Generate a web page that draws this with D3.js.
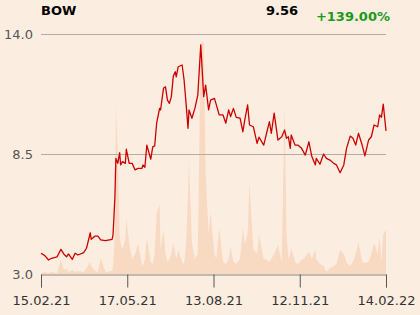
<!DOCTYPE html>
<html>
<head>
<meta charset="utf-8">
<script src="https://cdn.jsdelivr.net/npm/d3@7"></script>
<style>
  html, body { margin: 0; padding: 0; background: #fcede1; }
  svg { display: block; font-family: "DejaVu Sans", sans-serif; }
</style>
</head>
<body>
<script>
//Declare DATA
const symbol = 'BOW'
const lastPrice = '9.56'
const change = '+139.00%'
const tickDates = ['2021-02-15', '2021-05-17', '2021-08-13', '2021-11-12', '2022-02-14']
const yTicks = [3.0, 8.5, 14.0]

const dates = [
  '2021-02-15','2021-02-19','2021-02-23','2021-02-26','2021-03-04','2021-03-08','2021-03-11','2021-03-14','2021-03-16','2021-03-20',
  '2021-03-23','2021-03-26','2021-04-01','2021-04-04','2021-04-08','2021-04-09','2021-04-13','2021-04-16','2021-04-19','2021-04-24',
  '2021-05-01','2021-05-02','2021-05-04','2021-05-05','2021-05-07','2021-05-09','2021-05-10','2021-05-12','2021-05-15','2021-05-16',
  '2021-05-19','2021-05-22','2021-05-25','2021-05-28','2021-06-01','2021-06-02','2021-06-04','2021-06-06','2021-06-10','2021-06-12',
  '2021-06-14','2021-06-16','2021-06-19','2021-06-20','2021-06-23','2021-06-25','2021-06-27','2021-06-29','2021-07-01','2021-07-03',
  '2021-07-05','2021-07-06','2021-07-08','2021-07-12','2021-07-14','2021-07-16','2021-07-18','2021-07-19','2021-07-22','2021-07-25',
  '2021-07-28','2021-07-31','2021-08-03','2021-08-05','2021-08-08','2021-08-10','2021-08-14','2021-08-16','2021-08-19','2021-08-23',
  '2021-08-26','2021-08-29','2021-08-31','2021-09-03','2021-09-06','2021-09-10','2021-09-13','2021-09-15','2021-09-18','2021-09-20',
  '2021-09-24','2021-09-28','2021-09-30','2021-10-05','2021-10-08','2021-10-11','2021-10-13','2021-10-16','2021-10-20','2021-10-24',
  '2021-10-27','2021-10-29','2021-10-31','2021-11-02','2021-11-03','2021-11-07','2021-11-10','2021-11-14','2021-11-18','2021-11-22',
  '2021-11-25','2021-11-29','2021-11-30','2021-12-04','2021-12-08','2021-12-11','2021-12-15','2021-12-19','2021-12-22','2021-12-26',
  '2021-12-30','2022-01-02','2022-01-06','2022-01-09','2022-01-12','2022-01-15','2022-01-19','2022-01-22','2022-01-26','2022-01-29',
  '2022-02-01','2022-02-05','2022-02-07','2022-02-09','2022-02-11','2022-02-14'
]

const prices = [
  3.95,3.84,3.64,3.72,3.79,4.13,3.92,3.79,3.92,3.67,
  3.95,3.87,3.98,4.18,4.89,4.59,4.74,4.74,4.56,4.53,
  4.59,4.79,6.54,8.30,8.07,8.56,8.00,8.15,8.07,8.72,
  8.07,8.07,7.77,7.84,7.84,8.00,7.89,8.91,8.26,8.83,
  8.87,9.91,10.59,10.52,11.51,11.58,10.97,10.82,11.13,12.07,
  12.27,12.04,12.50,12.58,11.89,10.82,9.68,10.52,10.14,10.59,
  11.20,13.50,11.13,11.66,10.52,10.97,11.05,10.75,10.29,10.29,
  9.91,10.52,10.21,10.59,10.18,10.14,9.52,10.06,10.75,9.83,
  9.75,8.99,9.27,8.91,9.45,9.98,9.45,10.37,9.14,9.29,
  9.60,9.22,9.29,8.76,9.37,8.91,8.91,8.76,8.45,9.06,
  8.41,8.00,8.30,8.03,8.50,8.30,8.22,8.07,8.00,7.64,
  8.00,8.76,9.32,9.22,8.91,9.45,8.91,8.41,9.14,9.29,
  9.83,9.75,10.29,10.18,10.79,9.56
]

//Volume in thousands of shares
const volumes = [
  10,20,10,20,10,140,40,50,20,40,
  20,30,20,60,120,80,30,20,160,20,
  30,80,400,1700,1200,400,300,250,350,560,
  300,150,200,300,100,80,150,360,120,100,
  200,600,700,250,440,200,120,150,200,310,
  200,150,240,120,100,300,800,1140,300,150,
  200,2310,2320,1000,400,620,200,150,460,120,
  100,150,270,120,100,150,460,300,400,910,
  250,200,390,150,140,120,150,200,290,120,
  1690,400,150,200,260,120,100,140,170,220,
  150,240,150,100,80,20,60,80,100,240,
  200,110,80,120,200,320,120,110,120,200,
  310,200,370,120,400,440
]

//Declare VARIABLES
const w = 420
const h = 315
const plotLeft = 41
const plotRight = 386
const plotTop = 34
const plotBottom = 274

const data = dates.map((d, i) => ({ date: d3.timeParse('%Y-%m-%d')(d), price: prices[i], vol: volumes[i] }))
const tickDateObjs = tickDates.map(d3.timeParse('%Y-%m-%d'))

//Declare SVG
const svg = d3.select('body')
  .append('svg')
  .attr('width', w)
  .attr('height', h)

//Declare Scales (trading-day axis: ticks evenly spaced)
const xScale = d3.scaleTime()
  .domain(tickDateObjs)
  .range(tickDateObjs.map((d, i) => plotLeft + i * (plotRight - plotLeft) / (tickDateObjs.length - 1)))

const yScale = d3.scaleLinear()
  .domain([3, 14])
  .range([plotBottom, plotTop])

const vScale = d3.scaleLinear()
  .domain([0, 2400])
  .range([plotBottom, plotBottom - 240])

//Volume area
svg.append('path')
  .datum(data)
  .attr('fill', '#f8d9c2')
  .attr('d', d3.area()
    .x(d => xScale(d.date))
    .y0(plotBottom)
    .y1(d => vScale(d.vol)))

//Gridlines
svg.append('g')
  .selectAll('line')
  .data(yTicks.filter(t => t > 3))
  .enter()
  .append('line')
  .attr('x1', plotLeft)
  .attr('x2', plotRight)
  .attr('y1', d => yScale(d) + 0.5)
  .attr('y2', d => yScale(d) + 0.5)
  .attr('stroke', '#b3aca6')
  .attr('stroke-width', 1)

//Y labels
svg.append('g')
  .selectAll('text')
  .data(yTicks)
  .enter()
  .append('text')
  .attr('x', 33)
  .attr('y', d => yScale(d) + 4.5)
  .attr('text-anchor', 'end')
  .style('font-size', '13px')
  .attr('fill', '#555')
  .text(d => d.toFixed(1))

//Price line
svg.append('path')
  .datum(data)
  .attr('fill', 'none')
  .attr('stroke', '#cc0000')
  .attr('stroke-width', 1.3)
  .attr('stroke-linejoin', 'round')
  .attr('d', d3.line()
    .x(d => xScale(d.date))
    .y(d => yScale(d.price)))

//X Axis
const xAxis = d3.axisBottom(xScale)
  .tickValues(tickDateObjs)
  .tickFormat(d3.timeFormat('%d.%m.%y'))
  .tickSize(13)
  .tickPadding(8)

const gx = svg.append('g')
  .attr('transform', 'translate(0, ' + (plotBottom + 0.5) + ')')
  .call(xAxis)

gx.select('.domain').attr('stroke', '#8a8580')
gx.selectAll('.tick line').attr('stroke', '#555')
gx.selectAll('.tick text')
  .style('font-size', '13px')
  .style('font-family', '"DejaVu Sans", sans-serif')
  .attr('fill', '#333')

//Header
svg.append('text')
  .attr('x', 41)
  .attr('y', 15)
  .style('font-size', '13px')
  .style('font-weight', 'bold')
  .attr('fill', '#000')
  .text(symbol)

svg.append('text')
  .attr('x', 298)
  .attr('y', 15)
  .attr('text-anchor', 'end')
  .style('font-size', '13px')
  .style('font-weight', 'bold')
  .attr('fill', '#000')
  .text(lastPrice)

svg.append('text')
  .attr('x', 390)
  .attr('y', 21)
  .attr('text-anchor', 'end')
  .style('font-size', '13px')
  .style('font-weight', 'bold')
  .attr('fill', '#1a9a1a')
  .text(change)
</script>
</body>
</html>
